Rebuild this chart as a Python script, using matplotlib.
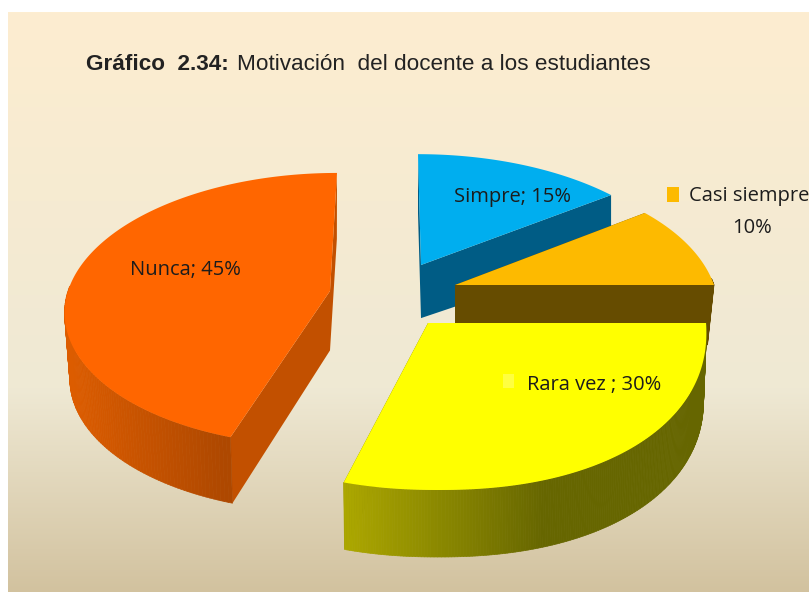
import numpy as np
import matplotlib
matplotlib.use("Agg")
import matplotlib.pyplot as plt
from matplotlib.collections import PolyCollection
from matplotlib.colors import to_rgb, LinearSegmentedColormap

categories = ["Simpre", "Casi siempre", "Rara vez", "Nunca"]
percent = [15, 10, 30, 45]
top_colors = ["#00AEEF", "#FDBA00", "#FFFF00", "#FF6600"]
cut_colors = ["#005C85", "#664C00", "#666600", "#C25000"]
rim_dark = ["#005C85", "#664C00", "#666600", "#AE4800"]
rim_light = ["#005C85", "#664C00", "#ADA800", "#DC5C00"]

W, H = 809, 592
fig = plt.figure(figsize=(W / 100, H / 100), dpi=100)
ax = fig.add_axes([0, 0, 1, 1])

cmap = LinearSegmentedColormap.from_list("bg", [(0, "#FDEDD0"), (.65, "#EFE9D4"), (1, "#D2C29F")])
ax.imshow(np.linspace(0, 1, 256)[:, None], cmap=cmap, extent=[8, W, H, 12], aspect="auto", zorder=0)
ax.set_xlim(0, W)
ax.set_ylim(H, 0)
ax.axis("off")

# apex x, apex y, a, b, shear, K, exponent, depth, taper, gradient x-range (light, dark)
geom = {
    "Simpre": (421, 265, 265, 133, -3, .2, 1, 59, 1, (0, 1)),
    "Casi siempre": (455, 285, 259, 137, 4, .2, 1, 60, .975, (0, 1)),
    "Rara vez": (428, 323, 278, 167, -10.5, 0, .92, 67, .99, (344, 545)),
    "Nunca": (330, 291, 262, 134, 7, .135, 1, 66, .98, (70, 225)),
}
z_order = {"Simpre": 1, "Casi siempre": 2, "Nunca": 3, "Rara vez": 4}


def proj(g, th):
    cx, cy, a, b, s, K, p = g[:7]
    su, cv = np.sin(th), np.cos(th)
    u = np.sign(su) * np.abs(su) ** p
    v = np.sign(cv) * np.abs(cv) ** p
    w = 1 + K * v
    return cx + a * u / w + s * v, cy - b * v / w


edges = np.cumsum([0] + percent) / 100 * 2 * np.pi
for i, name in enumerate(categories):
    g = geom[name]
    t0, t1 = edges[i], edges[i + 1]
    z = z_order[name]
    cx, cy, d, tp, rng = g[0], g[1], g[7], g[8], g[9]
    # cut faces
    for tt in (t0, t1):
        ex, ey = proj(g, tt)
        ax.fill([cx, ex, cx + (ex - cx) * tp, cx], [cy, ey, ey + d, cy + d * .9],
                color=cut_colors[i], lw=0, zorder=z)
    # outer rim: the part that faces the viewer
    th = np.linspace(t0, t1, 200)
    x, y = proj(g, th)
    m = np.cos(th) < 0.05
    if m.any():
        xr, yr = x[m], y[m]
        xb = cx + (xr - cx) * tp
        polys = [[(xr[k], yr[k]), (xr[k + 1], yr[k + 1]), (xb[k + 1], yr[k + 1] + d), (xb[k], yr[k] + d)]
                 for k in range(len(xr) - 1)]
        f = np.clip((xr[:-1] - rng[0]) / (rng[1] - rng[0]), 0, 1)[:, None]
        cols = np.array(to_rgb(rim_light[i])) * (1 - f) + np.array(to_rgb(rim_dark[i])) * f
        ax.add_collection(PolyCollection(polys, facecolors=cols, edgecolors=cols, linewidths=.5, zorder=z))
    # top face
    ax.fill(np.r_[cx, x], np.r_[cy, y], color=top_colors[i], lw=0, zorder=z + .5)

lab = dict(family="Open Sans", fontsize=14.5, color="#1c1c1c", zorder=10, va="center")
ax.text(454, 197, "Simpre; 15%", **lab)
ax.text(689, 196, "Casi siempre", clip_on=True, **lab)
ax.text(752, 228, "10%", ha="center", **lab)
ax.text(527, 385, "Rara vez ; 30%", **lab)
ax.text(130, 270, "Nunca; 45%", **lab)
ax.fill([667, 679, 679, 667], [187, 187, 202, 202], color=top_colors[1], lw=0, zorder=10)
ax.fill([503, 514, 514, 503], [374, 374, 388, 388], color="#FFFF40", lw=0, zorder=10)

ax.text(86, 64, "Gráfico  2.34:", family="Liberation Sans", fontsize=16.2, fontweight="bold",
        color="#222222", va="center", zorder=10)
ax.text(237, 64, "Motivación  del docente a los estudiantes", family="Liberation Sans", fontsize=16.2,
        color="#222222", va="center", zorder=10)

fig.savefig("out.png", dpi=100)
